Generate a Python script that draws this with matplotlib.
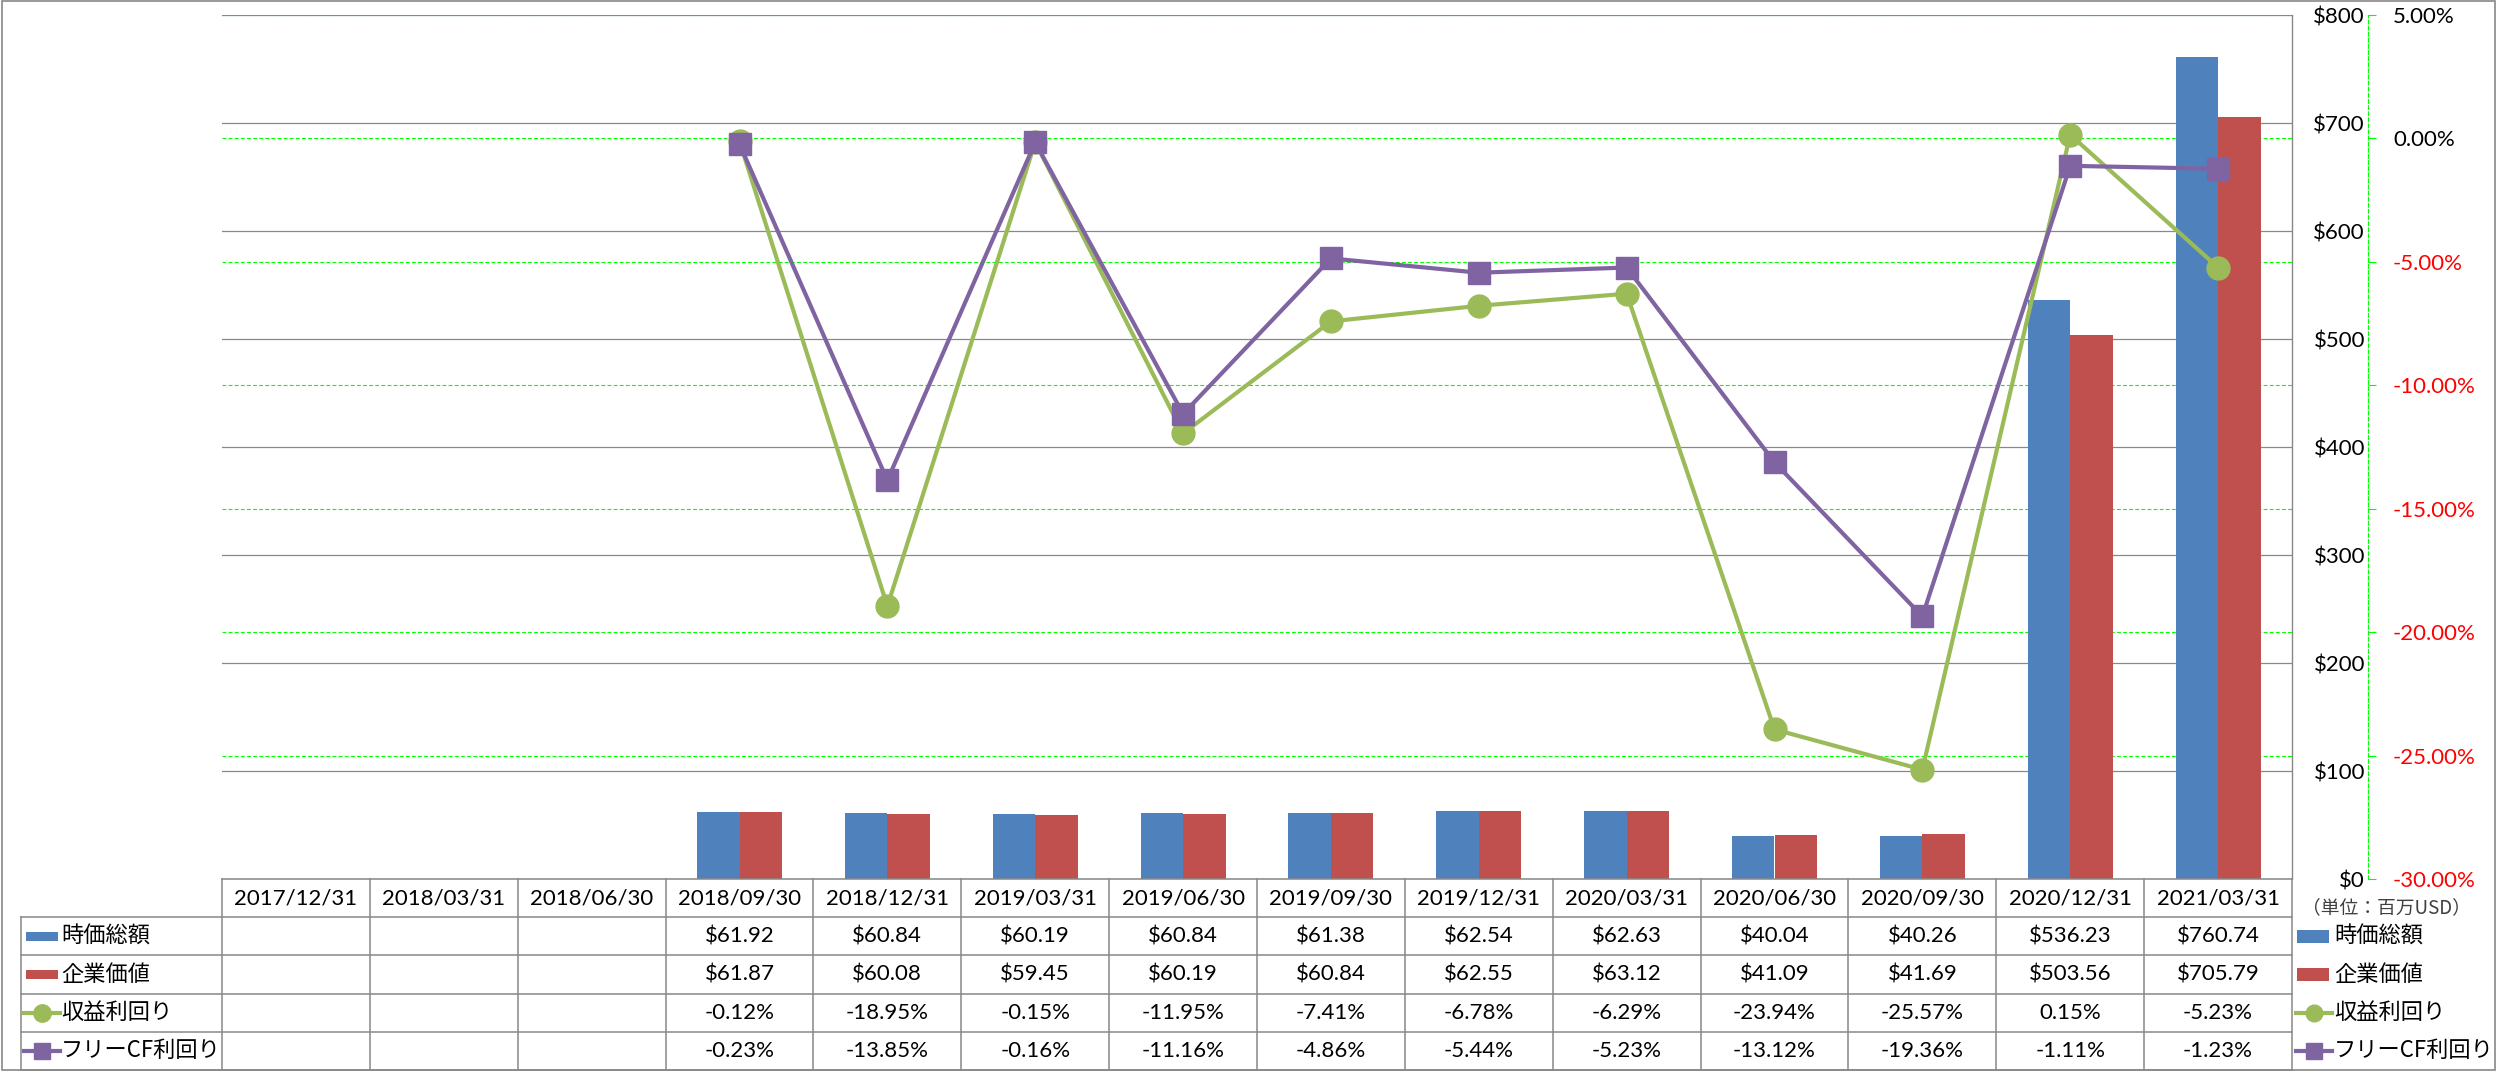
import numpy as np
import matplotlib
matplotlib.use('Agg')
import matplotlib.pyplot as plt
from matplotlib.transforms import Affine2D, blended_transform_factory
from matplotlib.patches import Rectangle
from matplotlib.lines import Line2D

plt.rcParams['font.family'] = ['Lato', 'Noto Sans CJK JP', 'DejaVu Sans']

# ---------------- data ----------------
dates = ['2017/12/31', '2018/03/31', '2018/06/30', '2018/09/30', '2018/12/31',
         '2019/03/31', '2019/06/30', '2019/09/30', '2019/12/31', '2020/03/31',
         '2020/06/30', '2020/09/30', '2020/12/31', '2021/03/31']
nan = np.nan
market_cap = [nan, nan, nan, 61.92, 60.84, 60.19, 60.84, 61.38, 62.54, 62.63,
              40.04, 40.26, 536.23, 760.74]
enterprise_value = [nan, nan, nan, 61.87, 60.08, 59.45, 60.19, 60.84, 62.55, 63.12,
                    41.09, 41.69, 503.56, 705.79]
earnings_yield = [nan, nan, nan, -0.12, -18.95, -0.15, -11.95, -7.41, -6.78, -6.29,
                  -23.94, -25.57, 0.15, -5.23]
fcf_yield = [nan, nan, nan, -0.23, -13.85, -0.16, -11.16, -4.86, -5.44, -5.23,
             -13.12, -19.36, -1.11, -1.23]
series_names = ['時価総額', '企業価値', '収益利回り', 'フリーCF利回り']
usd_ticks = [0, 100, 200, 300, 400, 500, 600, 700, 800]
pct_ticks = [-30, -25, -20, -15, -10, -5, 0, 5]
unit_label = '（単位：百万USD）'

# ---------------- style ----------------
BLUE, RED, GREEN, PURPLE = '#4F81BD', '#C0504D', '#9BBB59', '#8064A2'
GRAY = '#888888'
LIME = '#00FF00'
JP = ['Noto Sans CJK JP', 'DejaVu Sans']

W, H = 2497, 1071
fig = plt.figure(figsize=(W / 100, H / 100), dpi=100)
pix = Affine2D().scale(1, -1).translate(0, H)   # pixel coords, y from top

L, R, T, B = 222, 2292, 15, 879
pos = [L / W, (H - B) / H, (R - L) / W, (B - T) / H]

x = np.arange(len(dates))

# percentage axis (bottom layer, green grid)
ax_pct = fig.add_axes(pos)
ax_pct.set_xlim(-0.5, len(dates) - 0.5)
ax_pct.set_ylim(-30, 5)
ax_pct.set_yticks(pct_ticks, labels=[f'{v:.2f}%' for v in pct_ticks])
ax_pct.yaxis.tick_right()
for s in ['left', 'top', 'bottom']:
    ax_pct.spines[s].set_visible(False)
ax_pct.spines['right'].set_position(('outward', 76 * 0.72))
ax_pct.spines['right'].set_color(LIME)
ax_pct.spines['right'].set_linestyle((0, (3.5, 2)))
ax_pct.spines['right'].set_linewidth(0.8)
ax_pct.tick_params(axis='y', direction='out', length=5.8, width=0.8, color=LIME,
                   pad=12.2, labelsize=16)
ax_pct.tick_params(axis='x', bottom=False, labelbottom=False)
for lbl, v in zip(ax_pct.get_yticklabels(), pct_ticks):
    lbl.set_color('#FF0000' if v < 0 else 'black')
ax_pct.grid(axis='y', color=LIME, linestyle=(0, (3.5, 2)), linewidth=0.8)

# USD axis (bars, gray grid)
ax_bar = fig.add_axes(pos, sharex=ax_pct)
ax_bar.patch.set_visible(False)
ax_bar.set_ylim(0, 800)
ax_bar.set_yticks(usd_ticks, labels=[f'${v}' for v in usd_ticks])
ax_bar.yaxis.tick_right()
ax_bar.tick_params(axis='y', length=0, pad=73 * 0.72, labelsize=16)
ax_bar.tick_params(axis='x', bottom=False, labelbottom=False)
for lbl in ax_bar.get_yticklabels():
    lbl.set_horizontalalignment('right')
for s in ['left', 'top', 'bottom']:
    ax_bar.spines[s].set_visible(False)
ax_bar.spines['right'].set_color(GRAY)
ax_bar.spines['right'].set_linewidth(1.0)
ax_bar.set_axisbelow(True)
ax_bar.grid(axis='y', color=GRAY, linewidth=0.9)
bw = 0.2875
ax_bar.bar(x - bw / 2, market_cap, bw, color=BLUE, zorder=2)
ax_bar.bar(x + bw / 2, enterprise_value, bw, color=RED, zorder=2)

# lines
ax_line = fig.add_axes(pos, sharex=ax_pct, sharey=ax_pct)
ax_line.patch.set_visible(False)
ax_line.axis('off')
ax_line.plot(x, earnings_yield, color=GREEN, lw=3, marker='o', ms=16.5,
             clip_on=False, zorder=3)
ax_line.plot(x, fcf_yield, color=PURPLE, lw=3, marker='s', ms=15.5,
             clip_on=False, zorder=4)

# ---------------- data table ----------------
tbl = blended_transform_factory(ax_pct.transData, pix)
rows = [879, 917.2, 955.4, 993.6, 1031.8, 1070]
TL = 21  # table left pixel


def hline(x0, x1, y):
    fig.add_artist(Line2D([x0, x1], [y, y], transform=pix, color=GRAY, lw=1.1))


hline(L, R, rows[0])
for y in rows[1:]:
    hline(TL, R, y)
fig.add_artist(Line2D([TL, TL], [rows[1], rows[-1]], transform=pix, color=GRAY, lw=1.1))
for k in range(len(dates) + 1):
    fig.add_artist(Line2D([k - 0.5, k - 0.5], [rows[0], rows[-1]], transform=tbl,
                          color=GRAY, lw=1.1))

cy = [(rows[i] + rows[i + 1]) / 2 for i in range(5)]
for i, d in enumerate(dates):
    fig.text(i, cy[0], d, transform=tbl, ha='center', va='center', fontsize=16)

row_vals = [
    [f'${v:.2f}' if not np.isnan(v) else '' for v in market_cap],
    [f'${v:.2f}' if not np.isnan(v) else '' for v in enterprise_value],
    [f'{v:.2f}%' if not np.isnan(v) else '' for v in earnings_yield],
    [f'{v:.2f}%' if not np.isnan(v) else '' for v in fcf_yield],
]
for r, vals in enumerate(row_vals):
    for i, s in enumerate(vals):
        fig.text(i, cy[r + 1], s, transform=tbl, ha='center', va='center', fontsize=16)


def legend_icon(kind, color, x0, x1, yc, ph, ms):
    if kind == 'patch':
        fig.add_artist(Rectangle((x0, yc - ph / 2), x1 - x0, ph, transform=pix,
                                 facecolor=color, edgecolor='none'))
    else:
        fig.add_artist(Line2D([x0, x1], [yc, yc], transform=pix, color=color, lw=3))
        fig.add_artist(Line2D([(x0 + x1) / 2], [yc], transform=pix, color=color,
                              marker=kind, ms=ms, lw=0))


icons = [('patch', BLUE), ('patch', RED), ('o', GREEN), ('s', PURPLE)]
for r, (name, (kind, col)) in enumerate(zip(series_names, icons)):
    yc = cy[r + 1]
    # row header inside the table
    if kind == 'patch':
        legend_icon(kind, col, 26, 58, yc, 9, 0)
    else:
        legend_icon(kind, col, 24, 60, yc, 0, 12.5 if kind == 'o' else 12)
    fig.text(61, yc, name, transform=pix, ha='left', va='center', fontsize=16,
             family=JP)
    # legend on the right
    if kind == 'patch':
        legend_icon(kind, col, 2297, 2329, yc, 13, 0)
    else:
        legend_icon(kind, col, 2296, 2332, yc, 0, 12 if kind == 'o' else 11.5)
    fig.text(2334, yc, name, transform=pix, ha='left', va='center', fontsize=16,
             family=JP)

fig.text(2386, 908, unit_label, transform=pix, ha='center', va='center',
         fontsize=13.5, family=JP, color='#404040')

# outer border
fig.add_artist(Rectangle((2, 0.8), 2493, 1069.4, transform=pix, fill=False,
                         edgecolor=GRAY, lw=1.2))

fig.savefig('out.png', dpi=100)
